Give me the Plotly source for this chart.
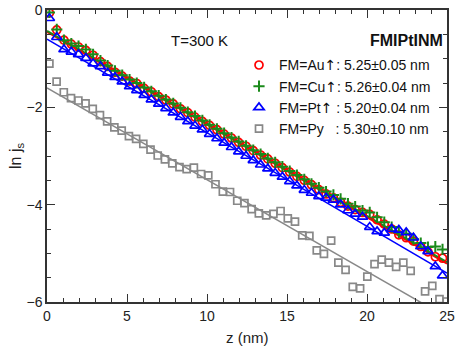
import numpy as np
import plotly.graph_objects as go

# thickness grid (nm)
z_fm = [0.15, 0.61, 1.06, 1.52, 1.97, 2.43, 2.88, 3.34, 3.79, 4.25,
        4.70, 5.16, 5.61, 6.07, 6.52, 6.98, 7.43, 7.89, 8.34, 8.80,
        9.25, 9.71, 10.16, 10.62, 11.07, 11.53, 11.98, 12.44, 12.89, 13.35,
        13.80, 14.26, 14.71, 15.17, 15.62, 16.08, 16.53, 16.99, 17.44, 17.90,
        18.35, 18.81, 19.26, 19.72, 20.17, 20.63, 21.08, 21.54, 21.99, 22.45,
        22.90, 23.36, 23.81, 24.27, 24.72]
z_py = [0.15, 0.60, 1.05, 1.50, 1.96, 2.41, 2.86, 3.31, 3.76, 4.21,
        4.67, 5.12, 5.57, 6.02, 6.47, 6.92, 7.37, 7.83, 8.28, 8.73,
        9.18, 9.63, 10.08, 10.53, 10.99, 11.44, 11.89, 12.34, 12.79, 13.24,
        13.70, 14.15, 14.60, 15.05, 15.50, 15.95, 16.40, 16.86, 17.31, 17.76,
        18.21, 18.66, 19.11, 19.57, 20.02, 20.47, 20.92, 21.37, 21.82, 22.27,
        22.73, 23.18, 23.63, 24.08, 24.53, 24.98]

ln_js_au = [-0.06, -0.41, -0.62, -0.70, -0.76, -0.83, -0.93, -1.06, -1.16, -1.28,
            -1.36, -1.46, -1.51, -1.61, -1.68, -1.78, -1.85, -1.93, -2.03, -2.11,
            -2.20, -2.29, -2.37, -2.46, -2.55, -2.63, -2.72, -2.80, -2.89, -2.98,
            -3.06, -3.15, -3.24, -3.33, -3.42, -3.50, -3.59, -3.69, -3.78, -3.86,
            -3.95, -4.03, -4.10, -4.16, -4.20, -4.31, -4.40, -4.50, -4.62, -4.68,
            -4.75, -4.86, -4.97, -5.07, -5.10]
ln_js_cu = [-0.05, -0.40, -0.62, -0.69, -0.74, -0.81, -0.91, -1.04, -1.14, -1.25,
            -1.34, -1.43, -1.50, -1.59, -1.67, -1.76, -1.84, -1.92, -2.01, -2.10,
            -2.18, -2.27, -2.36, -2.44, -2.53, -2.62, -2.70, -2.79, -2.88, -2.96,
            -3.05, -3.13, -3.22, -3.31, -3.39, -3.48, -3.57, -3.65, -3.73, -3.80,
            -3.88, -3.98, -4.04, -4.12, -4.16, -4.26, -4.36, -4.46, -4.57, -4.60,
            -4.71, -4.79, -4.87, -4.86, -4.92]
ln_js_pt = [-0.17, -0.56, -0.81, -0.86, -0.91, -0.99, -1.10, -1.16, -1.29, -1.38,
            -1.47, -1.57, -1.65, -1.75, -1.84, -1.93, -2.02, -2.11, -2.20, -2.29,
            -2.38, -2.46, -2.55, -2.64, -2.73, -2.82, -2.91, -3.00, -3.09, -3.18,
            -3.26, -3.35, -3.43, -3.52, -3.61, -3.70, -3.76, -3.83, -3.86, -3.90,
            -4.00, -4.12, -4.19, -4.25, -4.46, -4.55, -4.58, -4.50, -4.52, -4.57,
            -4.68, -4.86, -4.96, -5.27, -5.46]
ln_js_py = [-1.10, -1.47, -1.69, -1.81, -1.86, -1.92, -2.03, -2.16, -2.29, -2.41,
            -2.48, -2.59, -2.65, -2.75, -2.87, -2.99, -3.07, -3.15, -3.23, -3.27,
            -3.24, -3.37, -3.40, -3.58, -3.73, -3.74, -3.92, -3.97, -4.09, -4.18,
            -4.22, -4.19, -4.13, -4.28, -4.35, -4.63, -4.64, -4.94, -5.01, -4.74,
            -5.19, -5.34, -5.69, -5.72, -5.48, -5.22, -5.13, -5.19, -5.28, -5.19,
            -5.36, -6.10, -5.78, -5.67, -5.94, -5.99]

# fitted decay lengths (nm) and intercepts
lam = [5.25, 5.26, 5.20, 5.30]
intercept = [-0.45, -0.43, -0.60, -1.60]

up = '<span style="font-family:DejaVu Sans">\u2191</span>'
labels = ["FM=Au" + up + ": 5.25\u00b10.05 nm",
          "FM=Cu" + up + ": 5.26\u00b10.04 nm",
          "FM=Pt" + up + " : 5.20\u00b10.04 nm",
          "FM=Py\u00a0\u00a0\u00a0: 5.30\u00b10.10 nm"]

colors = ['#ff0000', '#1a8a1a', '#0000ff', '#888888']
symbols = ['circle-open', 'cross-thin-open', 'triangle-up-open', 'square-open']
sizes = [8, 8, 9, 7]
line_w = [2, 2, 1.5, 1.5]

zs = [z_fm, z_fm, z_fm, z_py]
ys = [ln_js_au, ln_js_cu, ln_js_pt, ln_js_py]

fig = go.Figure()

z_fit = np.array([0, 25])
for i in [3, 2, 0, 1]:
    fig.add_trace(go.Scatter(
        x=z_fit, y=intercept[i] - z_fit / lam[i],
        mode='lines', line=dict(color=colors[i], width=line_w[i]),
        showlegend=False, hoverinfo='skip'
    ))

for i in range(4):
    fig.add_trace(go.Scatter(
        x=zs[i], y=ys[i], mode='markers', name=labels[i],
        marker=dict(symbol=symbols[i], size=sizes[i], color=colors[i],
                    line=dict(width=1.7 if i != 1 else 2, color=colors[i]))
    ))

axis_common = dict(
    showgrid=False, zeroline=False, showline=True, linecolor='#333',
    linewidth=1.5, mirror='ticks', ticks='inside', ticklen=8, tickwidth=1.2,
    tickcolor='#333', tickfont=dict(size=14, color='#222'), automargin=False,
    ticklabeloverflow='allow'
)

fig.update_xaxes(range=[0, 25], dtick=5,
                 minor=dict(dtick=1, ticks='inside', ticklen=4, tickcolor='#333'),
                 **axis_common)
fig.update_yaxes(range=[-6, 0], dtick=2,
                 minor=dict(dtick=0.5, ticks='inside', ticklen=4, tickcolor='#333'),
                 **axis_common)

# axis titles
fig.add_annotation(x=0.5, y=0, xref='paper', yref='paper', yshift=-35,
                   text='z (nm)', showarrow=False, yanchor='middle',
                   font=dict(size=15, color='#222'))
fig.add_annotation(x=0, y=0.5, xref='paper', yref='paper', xshift=-31,
                   text='ln j<sub>s</sub>', showarrow=False, textangle=-90,
                   xanchor='center', font=dict(size=16, color='#222'))

fig.add_annotation(x=0.305, y=0.93, xref='paper', yref='paper', text='T=300 K',
                   showarrow=False, font=dict(size=15, color='#111'))
fig.add_annotation(x=0.995, y=0.93, xref='paper', yref='paper', text='<b>FMIPtINM</b>',
                   showarrow=False, xanchor='right', font=dict(size=16, color='#111'))

fig.update_layout(
    width=463, height=351,
    margin=dict(l=47, r=16, t=10, b=49, autoexpand=False),
    plot_bgcolor='white', paper_bgcolor='white',
    font=dict(family='Liberation Sans, Arial, sans-serif', color='#222'),
    legend=dict(x=0.48, y=0.865, xanchor='left', yanchor='top',
                bgcolor='rgba(0,0,0,0)', font=dict(size=14, color='#111'),
                itemwidth=30, tracegroupgap=0),
)

# drop the default page margin so the figure sits at the window corner
fig.write_html("out.html", config={'displayModeBar': False},
               post_script="document.body.style.margin='0';")
